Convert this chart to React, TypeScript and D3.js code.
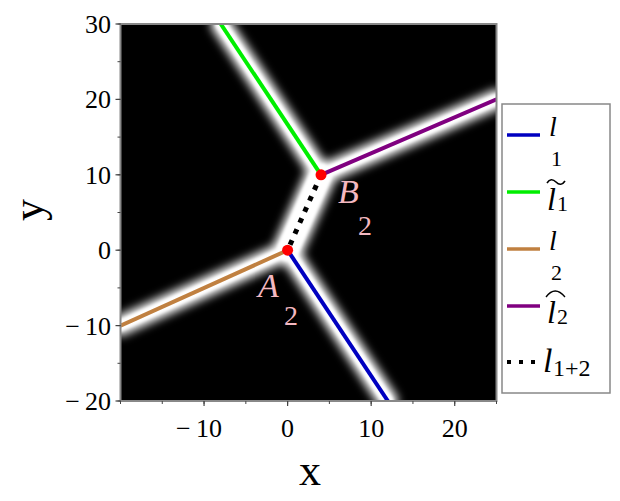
import React from "react";
import * as d3 from "d3";

// ---- data ----
const xTicks = [-10, 0, 10, 20];
const yTicks = [-20, -10, 0, 10, 20, 30];
const xDomain = [-20, 25];
const yDomain = [-20, 30];

const pointNames = ["A", "B"];
const pointX = [0, 4];
const pointY = [0, 10];

const lineNames = ["l1", "l1tilde", "l2", "l2hat", "l12"];
const lineColors = ["#0000c0", "#00ee00", "#c08040", "#800080", "#000000"];
const lineX1 = [0, 4, 0, 4, 0];
const lineY1 = [0, 10, 0, 10, 0];
const lineX2 = [12, -8, -20, 25, 4];
const lineY2 = [-20, 30, -10, 20, 10];

const W = 620, H = 501;
const left = 120.5, right = 496.5, top = 24, bottom = 401;

export default function App() {
  const x = d3.scaleLinear().domain(xDomain).range([left, right]);
  const y = d3.scaleLinear().domain(yDomain).range([bottom, top]);
  const minorX = d3.range(-20, 25.01, 5);
  const minorY = d3.range(-20, 30.01, 5);
  const serif = { fontFamily: '"Liberation Serif", serif' };

  const legendY = [135, 192, 249, 306, 362];

  return (
    <svg width={W} height={H} style={{ position: "absolute", left: 0, top: 0, background: "#fff" }}>
      <defs>
        <clipPath id="plotClip">
          <rect x={left} y={top} width={right - left} height={bottom - top} />
        </clipPath>
        <filter id="glow" x="-20%" y="-20%" width="140%" height="140%">
          <feGaussianBlur stdDeviation="5" />
        </filter>
        <filter id="glow2" x="-20%" y="-20%" width="140%" height="140%">
          <feGaussianBlur stdDeviation="1.5" />
        </filter>
      </defs>
      {/* background */}
      <rect x={left} y={top} width={right - left} height={bottom - top} fill="#000" />
      <g clipPath="url(#plotClip)">
        <g filter="url(#glow)">
          {lineNames.map((n, i) => (
            <line key={n} x1={x(lineX1[i])} y1={y(lineY1[i])} x2={x(lineX2[i])} y2={y(lineY2[i])}
              stroke="#fff" strokeWidth={n === "l12" ? 30 : 20} strokeLinecap="round" />
          ))}
        </g>
        <g filter="url(#glow2)">
          {lineNames.map((n, i) => (
            <line key={n} x1={x(lineX1[i])} y1={y(lineY1[i])} x2={x(lineX2[i])} y2={y(lineY2[i])}
              stroke="#fff" strokeWidth={n === "l12" ? 22 : 11} strokeLinecap="round" />
          ))}
        </g>
        {lineNames.map((n, i) => (
          <line key={n} x1={x(lineX1[i])} y1={y(lineY1[i])} x2={x(lineX2[i])} y2={y(lineY2[i])}
            stroke={lineColors[i]} strokeWidth={n === "l12" ? 5 : 4}
            strokeDasharray={n === "l12" ? "5,7" : undefined}
            strokeDashoffset={n === "l12" ? -6 : 0} />
        ))}
        {pointNames.map((n, i) => (
          <circle key={n} cx={x(pointX[i])} cy={y(pointY[i])} r={5.5} fill="#ff0000" />
        ))}
      </g>
      {/* frame */}
      <rect x={left} y={top} width={right - left} height={bottom - top} fill="none" stroke="#888" strokeWidth={2} />
      {/* ticks */}
      {xTicks.map(t => (
        <g key={"xt" + t}>
          <line x1={x(t)} x2={x(t)} y1={bottom} y2={bottom + 5} stroke="#444" strokeWidth={1.2} />
          <text x={x(t) - (t < 0 ? 5 : 0)} y={437} textAnchor="middle" style={serif} fontSize={26}>
            {t < 0 ? "\u2212" + "\u2009" + Math.abs(t) : String(t)}
          </text>
        </g>
      ))}
      {minorX.map(t => (
        <line key={"xm" + t} x1={x(t)} x2={x(t)} y1={bottom} y2={bottom + 3} stroke="#444" strokeWidth={1} />
      ))}
      {yTicks.map(t => (
        <g key={"yt" + t}>
          <line x1={left - 5} x2={left} y1={y(t)} y2={y(t)} stroke="#444" strokeWidth={1.2} />
          <text x={111} y={y(t) + 9} textAnchor="end" style={serif} fontSize={26}>
            {t < 0 ? "\u2212" + "\u2009" + Math.abs(t) : String(t)}
          </text>
        </g>
      ))}
      {minorY.map(t => (
        <line key={"ym" + t} x1={left - 3} x2={left} y1={y(t)} y2={y(t)} stroke="#444" strokeWidth={1} />
      ))}
      {/* axis labels */}
      <text x={310} y={485} textAnchor="middle" style={serif} fontSize={44}>x</text>
      <text transform="translate(43,210) rotate(-90)" textAnchor="middle" style={serif} fontSize={44}>y</text>

      {/* point labels */}
      <text x={338} y={203} style={serif} fontStyle="italic" fontSize={34} fill="#f4b8c0">B</text>
      <text x={358} y={235} style={serif} fontSize={28} fill="#f4b8c0">2</text>
      <text x={258} y={297} style={serif} fontStyle="italic" fontSize={34} fill="#f4b8c0">A</text>
      <text x={284} y={325} style={serif} fontSize={28} fill="#f4b8c0">2</text>

      {/* legend */}
      <rect x={502} y={104} width={108} height={289} fill="#fff" stroke="#888" strokeWidth={1.5} />
      {lineNames.map((n, i) => (
        <line key={"lg" + n} x1={507} x2={540} y1={legendY[i]} y2={legendY[i]}
          stroke={lineColors[i]} strokeWidth={n === "l12" ? 4 : 3.5}
          strokeDasharray={n === "l12" ? "4,8" : undefined} />
      ))}
      {/* l1 */}
      <text x={549} y={136} style={serif} fontStyle="italic" fontSize={28}>l</text>
      <text x={551} y={166} style={serif} fontSize={22}>1</text>
      {/* l1 tilde */}
      <path d="M547,183 q4,-6 9,-1 t9,-1" fill="none" stroke="#000" strokeWidth={1.6} />
      <text x={547} y={210} style={serif} fontStyle="italic" fontSize={32}>l</text>
      <text x={557} y={211} style={serif} fontSize={22}>1</text>
      {/* l2 */}
      <text x={549} y={250} style={serif} fontStyle="italic" fontSize={28}>l</text>
      <text x={551} y={280} style={serif} fontSize={22}>2</text>
      {/* l2 hat */}
      <path d="M546,297 q9,-12 19,0" fill="none" stroke="#000" strokeWidth={1.3} />
      <text x={547} y={323} style={serif} fontStyle="italic" fontSize={32}>l</text>
      <text x={557} y={324} style={serif} fontSize={22}>2</text>
      {/* l1+2 */}
      <text x={543} y={372} style={serif} fontStyle="italic" fontSize={34}>l</text>
      <text x={553} y={376} style={serif} fontSize={24}>1+2</text>
    </svg>
  );
}
